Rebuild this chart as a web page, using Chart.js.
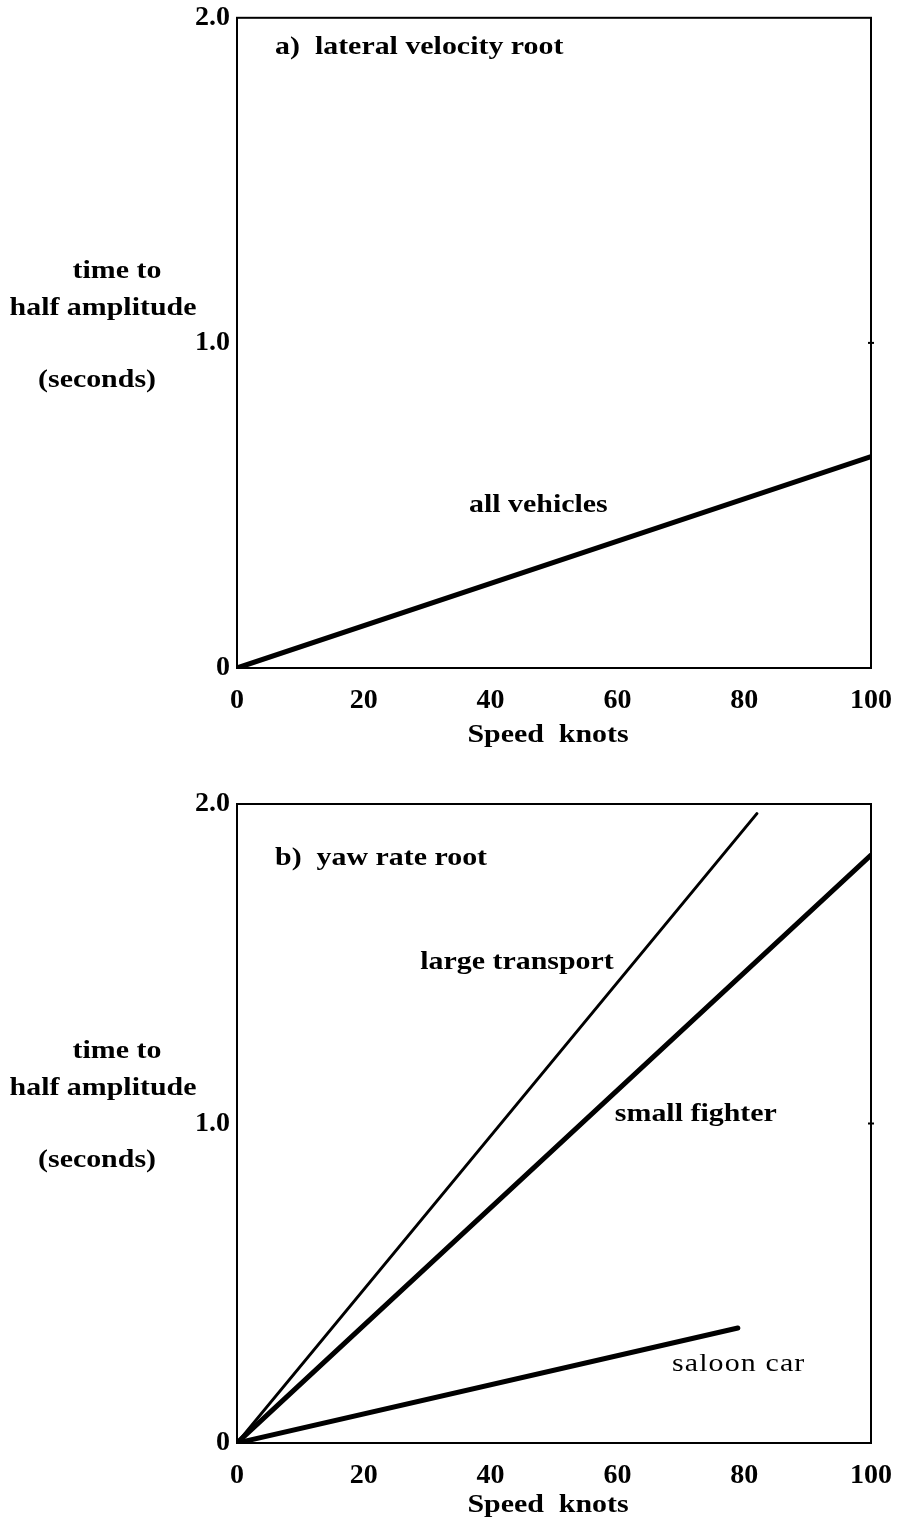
<!DOCTYPE html>
<html>
<head>
<meta charset="utf-8">
<script src="https://cdn.jsdelivr.net/npm/chart.js@4/dist/chart.umd.min.js"></script>
<style>
    body { margin: 0; background: #fff; }
    canvas { position: absolute; left: 0; }
    #chartA { top: -6px; }
    #chartB { top: 770px; }
</style>
</head>
<body>
<canvas id="chartA" width="910" height="776"></canvas>
<canvas id="chartB" width="910" height="753"></canvas>
<script>
// speed in knots, time to half amplitude in seconds
var speedAll = [0, 100]
var allVehicles = [0, 0.65]

var speedTransport = [0, 82]
var largeTransport = [0, 1.97]
var speedFighter = [0, 100]
var smallFighter = [0, 1.84]
var speedCar = [0, 79]
var saloonCar = [0, 0.36]

var speedTicks = [0, 20, 40, 60, 80, 100]
var timeTicks = [0, 1, 2]

var serif = "'Liberation Serif', 'Times New Roman', serif"

function points(xs, ys) {
    return xs.map(function (x, i) { return { x: x, y: ys[i] } })
}

function line(xs, ys, width) {
    return {
        data: points(xs, ys),
        showLine: true,
        borderColor: '#000',
        borderWidth: width,
        borderCapStyle: 'round',
        pointRadius: 0
    }
}

// the lettering is a bit wider than plain Times, so stretch it sideways
function wideText(ctx, text, x, y, align) {
    var w = ctx.measureText(text).width * 1.15
    var left = align === 'center' ? x - w / 2 : x
    ctx.save()
    ctx.translate(left, y)
    ctx.scale(1.15, 1)
    ctx.textAlign = 'left'
    ctx.fillText(text, 0, 0)
    ctx.restore()
}

// frame, axis titles and the labels written inside the plot
var notesPlugin = {
    id: 'notes',
    afterDraw: function (chart, args, opts) {
        var ctx = chart.ctx
        var area = chart.chartArea
        var xs = chart.scales.x
        var ys = chart.scales.y
        ctx.save()
        ctx.strokeStyle = '#000'
        ctx.lineWidth = 2
        ctx.strokeRect(area.left, area.top, area.right - area.left, area.bottom - area.top)
        // small tick on the right at 1.0
        var y1 = ys.getPixelForValue(1)
        ctx.beginPath()
        ctx.moveTo(area.right - 3, y1)
        ctx.lineTo(area.right + 3, y1)
        ctx.stroke()

        ctx.fillStyle = '#000'
        ctx.textBaseline = 'middle'
        ctx.font = 'bold 26px ' + serif

        // y axis title, three lines
        wideText(ctx, 'time to', 117, y1 - 72, 'center')
        wideText(ctx, 'half amplitude', 103, y1 - 35, 'center')
        wideText(ctx, '(seconds)', 97, y1 + 37, 'center')

        // x axis title
        wideText(ctx, 'Speed  knots', 548, area.bottom + opts.titleGap, 'center')

        opts.items.forEach(function (n) {
            ctx.font = (n.weight || 'bold') + ' 26px ' + serif
            ctx.letterSpacing = n.spacing || '0px'
            wideText(ctx, n.text, xs.getPixelForValue(n.x), ys.getPixelForValue(n.y), 'left')
        })
        ctx.restore()
    }
}

function makeChart(id, datasets, notes, frameTop, axisHeight, titleGap) {
    var tickFont = { family: serif, size: 28, weight: 'bold' }
    return new Chart(document.getElementById(id), {
        type: 'scatter',
        data: { datasets: datasets },
        options: {
            responsive: false,
            animation: false,
            layout: { padding: { top: frameTop, right: 39, left: 0, bottom: 0 } },
            plugins: {
                legend: { display: false },
                tooltip: { enabled: false },
                notes: { items: notes, titleGap: titleGap }
            },
            scales: {
                x: {
                    type: 'linear',
                    min: 0,
                    max: 100,
                    afterBuildTicks: function (s) {
                        s.ticks = speedTicks.map(function (v) { return { value: v } })
                    },
                    afterFit: function (s) { s.height = axisHeight },
                    grid: { display: false, drawTicks: false },
                    border: { display: false },
                    ticks: { font: tickFont, color: '#000', padding: 16, maxRotation: 0 }
                },
                y: {
                    type: 'linear',
                    min: 0,
                    max: 2,
                    afterBuildTicks: function (s) {
                        s.ticks = timeTicks.map(function (v) { return { value: v } })
                    },
                    afterFit: function (s) { s.width = 237 },
                    grid: { display: false, drawTicks: false },
                    border: { display: false },
                    ticks: {
                        font: tickFont,
                        color: '#000',
                        padding: 7,
                        callback: function (v) { return v === 0 ? '0' : v.toFixed(1) }
                    }
                }
            }
        },
        plugins: [notesPlugin]
    })
}

makeChart('chartA',
    [line(speedAll, allVehicles, 5)],
    [
        { text: 'a)  lateral velocity root', x: 6, y: 1.91 },
        { text: 'all vehicles', x: 36.6, y: 0.5 }
    ],
    16, 776 - 674, 67)

makeChart('chartB',
    [
        line(speedTransport, largeTransport, 3),
        line(speedFighter, smallFighter, 5),
        line(speedCar, saloonCar, 5)
    ],
    [
        { text: 'b)  yaw rate root', x: 6, y: 1.83 },
        { text: 'large transport', x: 28.9, y: 1.505 },
        { text: 'small fighter', x: 59.6, y: 1.03 },
        { text: 'saloon car', x: 68.6, y: 0.247, weight: 'normal', spacing: '1px' }
    ],
    34, 753 - 673, 62)
</script>
</body>
</html>
